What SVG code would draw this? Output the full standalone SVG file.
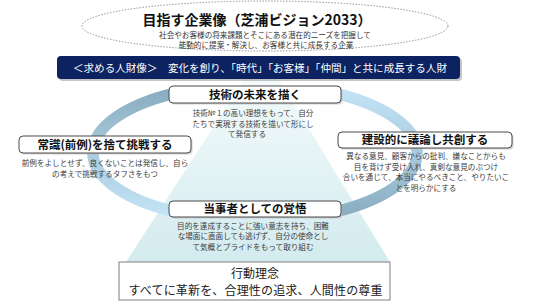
<svg xmlns="http://www.w3.org/2000/svg" width="533" height="308" viewBox="0 0 533 308">
<defs>
<linearGradient id="tri" gradientUnits="userSpaceOnUse" x1="0" y1="52" x2="0" y2="262">
<stop offset="0" stop-color="#f8fcfc"/>
<stop offset="1" stop-color="#d3ebef"/>
</linearGradient>
<linearGradient id="arcL" gradientUnits="userSpaceOnUse" x1="0" y1="88" x2="0" y2="217">
<stop offset="0" stop-color="#89abc0"/>
<stop offset="0.45" stop-color="#a6c8da"/>
<stop offset="1" stop-color="#c4e5f7"/>
</linearGradient>
<linearGradient id="arcR" gradientUnits="userSpaceOnUse" x1="0" y1="88" x2="0" y2="217">
<stop offset="0" stop-color="#c4e5f7"/>
<stop offset="0.55" stop-color="#a6c8da"/>
<stop offset="1" stop-color="#89abc0"/>
</linearGradient>
</defs>
<style>
text{font-family:"Noto Sans CJK JP","Noto Sans",sans-serif;}
.box{fill:#ffffff;stroke:#4a4a4a;stroke-width:1;}
.shadow{fill:#b8b8b8;opacity:0.6;}
.ttl{font-size:11.5px;font-weight:bold;fill:#111;text-anchor:middle;}
.desc{font-size:7.6px;fill:#3c3c3c;text-anchor:middle;}
.sub{font-size:7.6px;fill:#333;text-anchor:middle;}
</style>
<rect width="533" height="308" fill="#ffffff"/>

<g id="vision">
<ellipse cx="265" cy="26" rx="183" ry="25" fill="#ffffff" stroke="#7a7a7a" stroke-width="0.8" stroke-dasharray="1.5 1.5"/>
<text x="257" y="25" font-size="14" font-weight="bold" fill="#111" text-anchor="middle">目指す企業像（芝浦ビジョン2033）</text>
<text class="sub" x="265" y="38">社会やお客様の将来課題とそこにある潜在的ニーズを把握して</text>
<text class="sub" x="266" y="48">能動的に提案・解決し、お客様と共に成長する企業</text>
</g>

<g id="triangle">
<polygon points="262,52 126,262 390,262" fill="url(#tri)"/>
</g>

<g id="banner">
<rect x="59" y="58" width="403" height="23" rx="4" fill="#8a8a8a" opacity="0.5"/>
<rect x="57" y="56" width="403" height="23" rx="4" fill="#0d2260"/>
<text x="260" y="72" font-size="10.6" fill="#ffffff" text-anchor="middle" textLength="374" lengthAdjust="spacing">＜求める人財像＞　変化を創り、「時代」「お客様」「仲間」と共に成長する人財</text>
</g>

<g id="connectors">
<path d="M173,93.7 A161,68 0 0 0 173,211.3" fill="none" stroke="url(#arcL)" stroke-width="11.5"/>
<path d="M337,93.7 A161,68 0 0 1 337,211.3" fill="none" stroke="url(#arcR)" stroke-width="11.5"/>
</g>

<g id="node-gijutsu">
<rect class="shadow" x="170.5" y="87.5" width="172" height="17" rx="4"/>
<rect class="box" x="169" y="86" width="172" height="17" rx="4"/>
<text class="ttl" x="255" y="98.5">技術の未来を描く</text>
<text class="desc" x="253" y="116">技術№１の高い理想をもって、自分</text>
<text class="desc" x="253" y="126.5">たちで実現する技術を描いて形にし</text>
<text class="desc" x="247" y="137">て発信する</text>
</g>

<g id="node-joushiki">
<rect class="shadow" x="20.5" y="137.5" width="172" height="17" rx="4"/>
<rect class="box" x="19" y="136" width="172" height="17" rx="4"/>
<text class="ttl" x="105" y="148.5">常識(前例)を捨て挑戦する</text>
<text class="desc" x="105" y="166">前例をよしとせず、良くないことは発信し、自ら</text>
<text class="desc" x="105" y="177">の考えで挑戦するタフさをもつ</text>
</g>

<g id="node-kensetsu">
<rect class="shadow" x="339.5" y="133.5" width="174" height="16" rx="4"/>
<rect class="box" x="338" y="132" width="174" height="16" rx="4"/>
<text class="ttl" x="425" y="144">建設的に議論し共創する</text>
<text class="desc" x="426" y="159">異なる意見、顧客からの批判、嫌なことからも</text>
<text class="desc" x="426" y="169.5">目を背けず受け入れ、真剣な意見のぶつけ</text>
<text class="desc" x="426" y="180">合いを通じて、本当にやるべきこと、やりたいこ</text>
<text class="desc" x="426" y="190.5">とを明らかにする</text>
</g>

<g id="node-toujisha">
<rect class="shadow" x="170.5" y="202.5" width="172" height="16" rx="4"/>
<rect class="box" x="169" y="201" width="172" height="16" rx="4"/>
<text class="ttl" x="255" y="213">当事者としての覚悟</text>
<text class="desc" x="253" y="228.5">目的を達成することに強い意志を持ち、困難</text>
<text class="desc" x="253" y="239">な場面に直面しても逃げず、自分の使命とし</text>
<text class="desc" x="253" y="249.5">て気概とプライドをもって取り組む</text>
</g>

<g id="node-koudou">
<rect x="119" y="262" width="271" height="38" fill="#ffffff" stroke="#7f7f7f" stroke-width="1"/>
<text x="255" y="278" font-size="12" fill="#222" text-anchor="middle">行動理念</text>
<text x="255.5" y="295" font-size="12" fill="#222" text-anchor="middle" textLength="254" lengthAdjust="spacing">すべてに革新を、合理性の追求、人間性の尊重</text>
</g>
</svg>
